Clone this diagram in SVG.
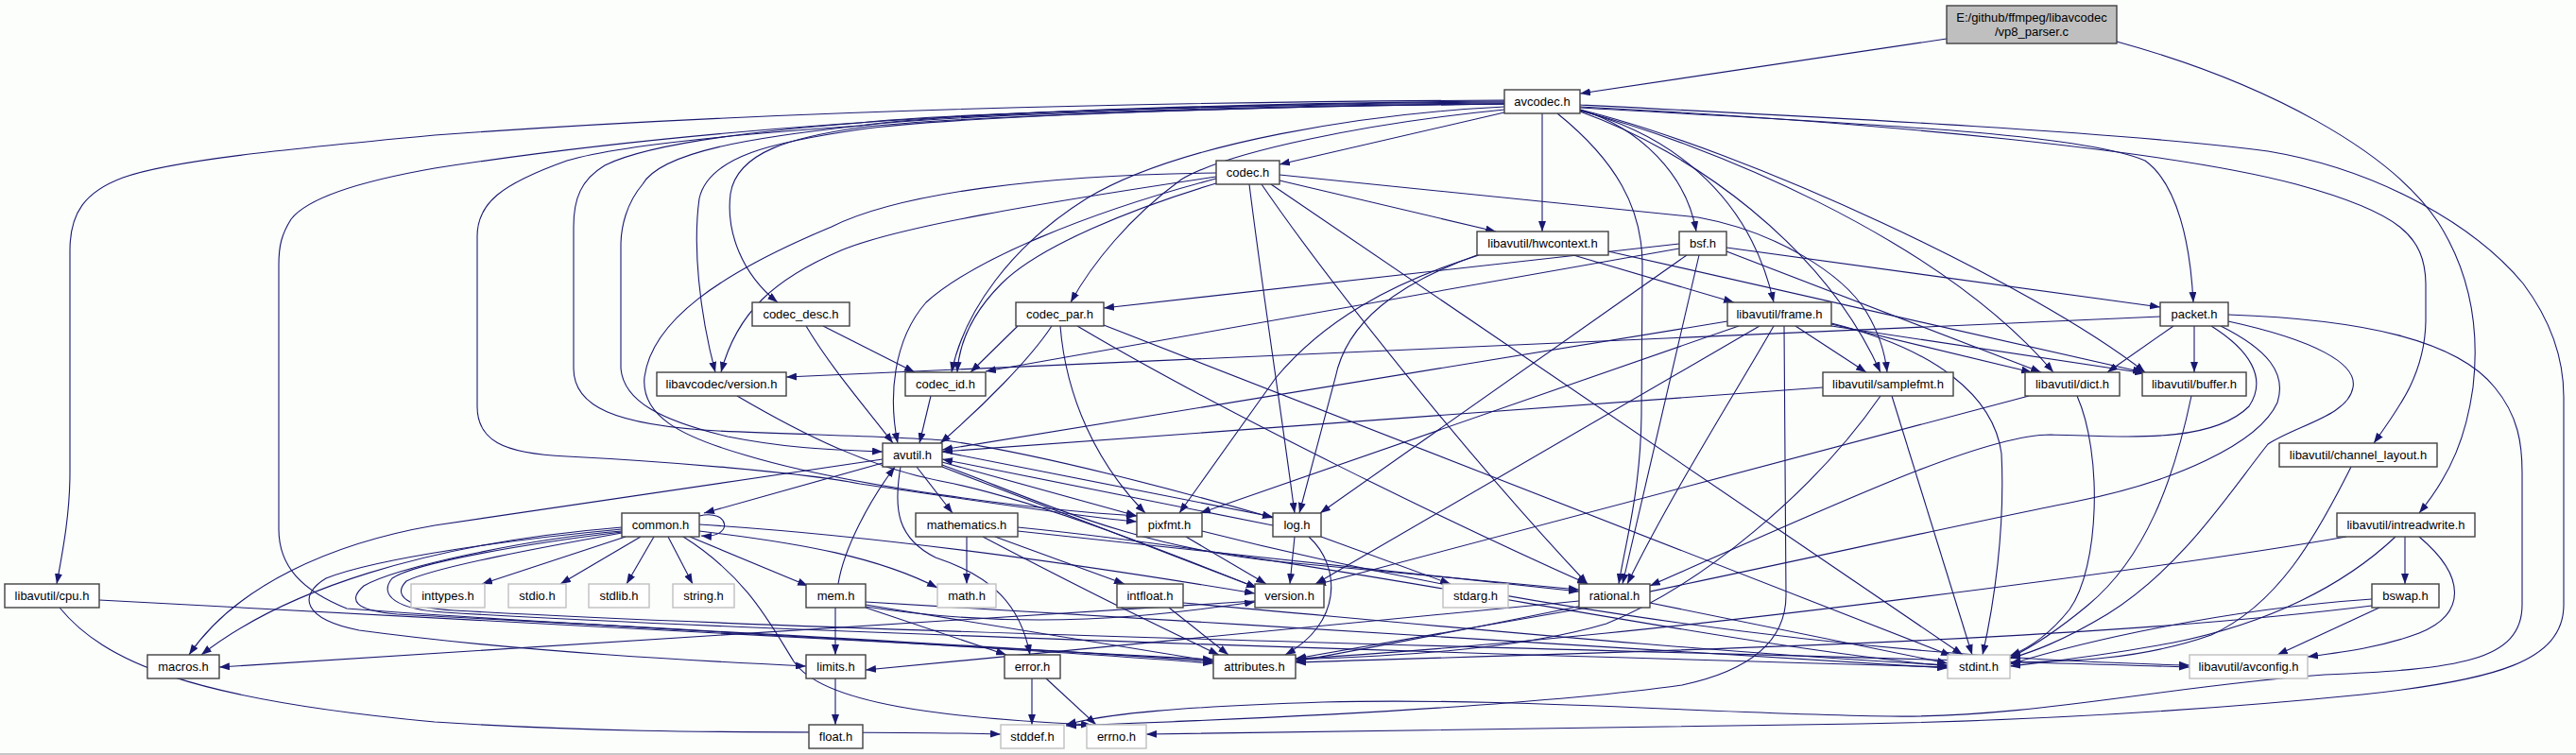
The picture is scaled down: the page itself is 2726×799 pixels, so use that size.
<svg xmlns="http://www.w3.org/2000/svg" width="2726" height="799" viewBox="0 0 2726 799">
<defs>
<marker id="a" viewBox="0 0 11 8" refX="11" refY="4" markerWidth="11" markerHeight="8" markerUnits="userSpaceOnUse" orient="auto"><path d="M0,0L11,4L0,8z" fill="#191970"/></marker>
<style>
.e path{fill:none;stroke:#191970;stroke-width:1.1;marker-end:url(#a)}
.n rect{fill:#ffffff;stroke:#404040;stroke-width:1.4}
.g rect{fill:#ffffff;stroke:#bfbfbf;stroke-width:1.4}
.r rect{fill:#bfbfbf;stroke:#404040;stroke-width:1.4}
text{font-family:"Liberation Sans",Arial,sans-serif;font-size:13px;fill:#000;text-anchor:middle}
</style>
</defs>
<rect x="0" y="0" width="2726" height="799" fill="#fcfefc"/>
<line x1="0" y1="798" x2="2726" y2="798" stroke="#b4b4b4" stroke-width="1.5"/>
<g class="e" id="edges">
<path d="M2060,41 L1672,99"/>
<path d="M2240,44 C2400,88 2530,160 2580,235 C2615,290 2624,350 2617,410 C2610,460 2595,500 2560,543"/>
<path d="M1592,119 L1354,174"/>
<path d="M1632,120 L1632,245"/>
<path d="M1672,116 C1735,135 1785,185 1795,245"/>
<path d="M1648,120 C1710,170 1738,220 1738,280 L1737,440 C1736,520 1720,575 1713,618"/>
<path d="M1672,117 C1760,140 1850,200 1877,320"/>
<path d="M1672,118 C1790,160 1930,260 1990,394"/>
<path d="M1672,117 C1800,150 2050,250 2173,394"/>
<path d="M1672,116 C1850,160 2150,300 2270,394"/>
<path d="M1672,114 C1950,130 2200,140 2270,170 C2305,195 2318,260 2321,320"/>
<path d="M1672,113 C2000,130 2300,160 2430,195 C2540,225 2566,250 2567,300 L2567,340 C2566,395 2540,430 2512,469"/>
<path d="M1672,111 C1950,125 2250,140 2400,160 C2520,180 2620,240 2670,300 C2700,340 2713,380 2713,420 L2713,640 C2713,700 2640,720 2500,735 C2300,755 2100,765 1900,767 C1600,770 1400,775 1213,777"/>
<path d="M1592,116 C1450,130 1300,160 1250,190 C1195,230 1155,280 1133,320"/>
<path d="M1592,113 C1450,120 1250,150 1150,210 C1070,260 1020,330 1007,394"/>
<path d="M1592,110 C1300,113 1000,124 910,135 C840,145 780,160 773,205 C768,245 785,290 823,320"/>
<path d="M1592,110 C1300,113 1000,124 910,137 C820,150 750,165 740,210 C733,260 740,330 757,394"/>
<path d="M1592,109 C1300,111 1000,120 910,130 C780,140 680,155 640,175 C615,190 607,210 607,240 L607,390 C607,430 650,450 760,456 C850,460 950,462 1000,466 C1100,480 1250,520 1347,548"/>
<path d="M1592,110 C1300,112 1000,122 910,133 C800,145 700,160 680,195 C663,215 657,240 657,260 L657,390 C660,425 700,445 770,462 C840,476 890,476 934,478"/>
<path d="M1592,108 C1300,110 1000,120 910,133 C780,142 650,155 600,170 C530,195 505,215 505,250 L505,430 C505,465 530,480 600,483 C700,488 850,500 910,512 C1000,525 1150,548 1203,552"/>
<path d="M1592,107 C1200,110 800,125 460,178 C380,192 325,210 308,232 C298,248 295,260 295,280 L295,560 C295,600 320,625 367,644 C600,662 1000,680 1284,702"/>
<path d="M1592,106 C1200,108 800,118 460,143 C300,158 180,170 130,188 C90,203 74,225 74,265 L74,500 C74,545 66,585 60,618"/>
<path d="M1345,195 L2077,693"/>
<path d="M1287,189 C1150,225 1030,275 980,320 C945,360 940,420 950,469"/>
<path d="M1354,191 L1583,245"/>
<path d="M1322,195 C1335,300 1355,430 1370,543"/>
<path d="M1287,183 C1100,185 950,205 880,240 C760,290 690,340 682,399 C678,440 720,462 790,482 C900,515 1100,540 1203,546"/>
<path d="M1335,195 C1400,290 1550,480 1680,618"/>
<path d="M1354,185 L1797,230 C1880,245 1950,290 1975,330 C1990,355 1995,375 1997,394"/>
<path d="M1287,194 C1200,220 1100,260 1060,300 C1030,330 1015,360 1013,394"/>
<path d="M1287,187 C1100,215 950,240 890,265 C820,295 780,330 763,394"/>
<path d="M1563,270 C1480,300 1425,340 1413,400 L1375,543"/>
<path d="M1565,270 C1470,300 1400,340 1350,400 L1248,543"/>
<path d="M1665,270 L1835,320"/>
<path d="M1702,266 L2268,394"/>
<path d="M1827,262 L2286,325"/>
<path d="M1827,266 L2160,394"/>
<path d="M1785,270 L1397,543"/>
<path d="M1798,270 L1717,618"/>
<path d="M1777,263 L1043,393"/>
<path d="M1777,258 L1168,326"/>
<path d="M853,345 C880,390 915,430 945,469"/>
<path d="M871,345 L968,394"/>
<path d="M1077,345 L1027,394"/>
<path d="M1113,345 C1090,380 1040,430 995,469"/>
<path d="M1122,345 C1128,420 1160,490 1212,543"/>
<path d="M1140,345 C1300,440 1550,560 1680,618"/>
<path d="M1168,344 L2065,694"/>
<path d="M1828,340 L997,476"/>
<path d="M1840,345 L1270,543"/>
<path d="M1862,345 L1392,618"/>
<path d="M1877,345 C1840,410 1770,520 1722,618"/>
<path d="M1900,345 L1975,394"/>
<path d="M1938,342 C2050,370 2110,420 2118,480 C2122,560 2110,640 2098,693"/>
<path d="M1938,343 L2150,394"/>
<path d="M1938,345 L2270,395"/>
<path d="M1888,345 L1890,630 C1890,680 1850,710 1780,725 C1600,750 1300,762 1128,768"/>
<path d="M2322,345 L2322,394"/>
<path d="M2300,345 L2230,394"/>
<path d="M2286,335 L832,399"/>
<path d="M2358,340 C2450,360 2495,385 2490,410 C2485,440 2430,450 2400,470 C2360,520 2310,600 2230,650 C2180,680 2150,690 2127,697"/>
<path d="M2350,345 C2400,370 2420,395 2410,426 C2390,470 2300,510 2200,530 C2000,570 1700,640 1371,700"/>
<path d="M2340,345 C2380,370 2400,400 2380,430 C2340,470 2250,462 2170,460 C2100,460 1950,530 1746,620"/>
<path d="M2358,333 C2500,338 2600,360 2640,410 C2665,440 2669,470 2669,500 L2669,640 C2669,700 2600,708 2460,714 C2300,725 2150,760 2000,758 C1800,755 1600,738 1400,743 C1250,748 1170,755 1128,767"/>
<path d="M1929,410 L997,478"/>
<path d="M2002,419 L2087,693"/>
<path d="M1990,419 C1920,520 1800,620 1700,660 C1600,690 1450,695 1371,698"/>
<path d="M2198,419 C2225,480 2222,600 2190,645 C2170,670 2150,685 2127,694"/>
<path d="M2147,419 L1392,619"/>
<path d="M2319,419 C2300,510 2270,590 2210,640 C2180,665 2150,685 2127,696"/>
<path d="M780,419 C850,460 920,495 1000,510 C1100,530 1250,590 1330,622"/>
<path d="M985,419 L973,469"/>
<path d="M934,490 L745,543"/>
<path d="M970,494 L1008,543"/>
<path d="M953,494 C945,540 950,570 990,590 C1050,610 1080,640 1090,693"/>
<path d="M997,489 L1203,546"/>
<path d="M997,478 L1347,547"/>
<path d="M997,494 L1330,622"/>
<path d="M997,492 C1100,530 1200,580 1360,595 C1500,608 1600,618 1671,624"/>
<path d="M934,486 L460,556 C350,575 250,620 200,693"/>
<path d="M1347,556 L997,486"/>
<path d="M1398,568 L1535,618"/>
<path d="M1370,568 L1365,618"/>
<path d="M1385,568 C1420,600 1420,660 1360,693"/>
<path d="M662,568 L510,618"/>
<path d="M678,568 L593,618"/>
<path d="M692,568 L663,618"/>
<path d="M707,568 L733,618"/>
<path d="M730,568 L855,620"/>
<path d="M740,546 C772,538 778,570 742,567"/>
<path d="M740,562 C850,575 930,590 992,622"/>
<path d="M723,568 C790,610 815,660 840,700 C870,745 1000,760 1155,767"/>
<path d="M658,560 C550,570 400,590 345,612 C315,630 320,655 380,667 C550,690 750,700 853,705"/>
<path d="M658,562 C560,570 420,600 385,620 C368,635 375,646 420,650 C700,665 1000,680 1284,700"/>
<path d="M658,563 C560,575 440,595 415,612 C400,630 420,645 470,648 C800,668 1500,690 2061,706"/>
<path d="M658,564 C580,578 460,600 430,615 C415,630 430,643 480,646 C900,670 1800,690 2317,706"/>
<path d="M658,558 C450,575 300,625 213,693"/>
<path d="M740,555 C900,565 1100,590 1328,628"/>
<path d="M1023,568 L1023,618"/>
<path d="M1053,568 L1190,618"/>
<path d="M1040,568 C1120,610 1220,660 1290,693"/>
<path d="M1077,562 L1671,626"/>
<path d="M1077,558 C1400,590 1800,680 2061,705"/>
<path d="M1255,568 L1340,618"/>
<path d="M1272,562 C1500,620 1900,695 2317,704"/>
<path d="M884,643 L884,693"/>
<path d="M887,618 C893,580 920,530 947,494"/>
<path d="M916,643 L1065,693"/>
<path d="M916,640 L1284,700"/>
<path d="M916,637 C1300,660 1800,690 2061,707"/>
<path d="M916,642 C1000,655 1100,660 1200,652 C1260,647 1300,641 1328,637"/>
<path d="M1237,643 L1300,693"/>
<path d="M1252,638 C1500,660 1800,690 2061,704"/>
<path d="M1746,638 L2061,702"/>
<path d="M1671,636 L916,709"/>
<path d="M1680,643 L1371,697"/>
<path d="M1328,636 L232,706"/>
<path d="M1092,718 L1092,767"/>
<path d="M1107,718 L1160,767"/>
<path d="M884,718 L884,767"/>
<path d="M105,635 L1284,698"/>
<path d="M63,643 C110,700 200,740 460,764 C700,780 900,772 1059,777"/>
<path d="M2488,494 C2450,570 2410,640 2340,672 C2260,700 2180,700 2127,701"/>
<path d="M2545,568 L2545,618"/>
<path d="M2560,568 C2610,610 2610,650 2560,670 C2520,685 2480,690 2442,695"/>
<path d="M2535,568 C2480,620 2400,660 2300,680 C2220,695 2170,700 2127,705"/>
<path d="M2483,568 C2300,600 1900,650 1700,670 C1550,685 1450,693 1371,697"/>
<path d="M2518,643 L2410,693"/>
<path d="M2510,634 C2350,645 2200,680 2127,703"/>
<path d="M2510,641 C2200,680 1700,690 1371,701"/>
</g>
<g id="vp8_parser_c" class="r"><rect x="2060" y="6" width="180" height="40"/><text x="2150" y="23">E:/github/ffmpeg/libavcodec</text><text x="2150" y="38">/vp8_parser.c</text></g>
<g id="avcodec_h" class="n"><rect x="1592" y="95" width="80" height="25"/><text x="1632" y="112">avcodec.h</text></g>
<g id="codec_h" class="n"><rect x="1287" y="170" width="67" height="25"/><text x="1320.5" y="187">codec.h</text></g>
<g id="hwcontext_h" class="n"><rect x="1563" y="245" width="139" height="25"/><text x="1632.5" y="262">libavutil/hwcontext.h</text></g>
<g id="bsf_h" class="n"><rect x="1777" y="245" width="50" height="25"/><text x="1802" y="262">bsf.h</text></g>
<g id="codec_desc_h" class="n"><rect x="796" y="320" width="103" height="25"/><text x="847.5" y="337">codec_desc.h</text></g>
<g id="codec_par_h" class="n"><rect x="1075" y="320" width="93" height="25"/><text x="1121.5" y="337">codec_par.h</text></g>
<g id="frame_h" class="n"><rect x="1828" y="320" width="110" height="25"/><text x="1883" y="337">libavutil/frame.h</text></g>
<g id="packet_h" class="n"><rect x="2286" y="320" width="72" height="25"/><text x="2322" y="337">packet.h</text></g>
<g id="codec_id_h" class="n"><rect x="958" y="394" width="85" height="25"/><text x="1000.5" y="411">codec_id.h</text></g>
<g id="lavc_version_h" class="n"><rect x="695" y="394" width="137" height="25"/><text x="763.5" y="411">libavcodec/version.h</text></g>
<g id="samplefmt_h" class="n"><rect x="1929" y="394" width="138" height="25"/><text x="1998" y="411">libavutil/samplefmt.h</text></g>
<g id="dict_h" class="n"><rect x="2143" y="394" width="100" height="25"/><text x="2193" y="411">libavutil/dict.h</text></g>
<g id="buffer_h" class="n"><rect x="2267" y="394" width="110" height="25"/><text x="2322" y="411">libavutil/buffer.h</text></g>
<g id="avutil_h" class="n"><rect x="934" y="469" width="63" height="25"/><text x="965.5" y="486">avutil.h</text></g>
<g id="channel_layout_h" class="n"><rect x="2412" y="469" width="167" height="25"/><text x="2495.5" y="486">libavutil/channel_layout.h</text></g>
<g id="common_h" class="n"><rect x="658" y="543" width="82" height="25"/><text x="699" y="560">common.h</text></g>
<g id="mathematics_h" class="n"><rect x="969" y="543" width="108" height="25"/><text x="1023" y="560">mathematics.h</text></g>
<g id="pixfmt_h" class="n"><rect x="1203" y="543" width="69" height="25"/><text x="1237.5" y="560">pixfmt.h</text></g>
<g id="log_h" class="n"><rect x="1347" y="543" width="51" height="25"/><text x="1372.5" y="560">log.h</text></g>
<g id="intreadwrite_h" class="n"><rect x="2473" y="543" width="146" height="25"/><text x="2546" y="560">libavutil/intreadwrite.h</text></g>
<g id="cpu_h" class="n"><rect x="5" y="618" width="100" height="25"/><text x="55" y="635">libavutil/cpu.h</text></g>
<g id="inttypes_h" class="g"><rect x="435" y="618" width="78" height="25"/><text x="474" y="635">inttypes.h</text></g>
<g id="stdio_h" class="g"><rect x="538" y="618" width="61" height="25"/><text x="568.5" y="635">stdio.h</text></g>
<g id="stdlib_h" class="g"><rect x="623" y="618" width="64" height="25"/><text x="655" y="635">stdlib.h</text></g>
<g id="string_h" class="g"><rect x="712" y="618" width="65" height="25"/><text x="744.5" y="635">string.h</text></g>
<g id="mem_h" class="n"><rect x="853" y="618" width="63" height="25"/><text x="884.5" y="635">mem.h</text></g>
<g id="math_h" class="g"><rect x="992" y="618" width="62" height="25"/><text x="1023" y="635">math.h</text></g>
<g id="intfloat_h" class="n"><rect x="1182" y="618" width="70" height="25"/><text x="1217" y="635">intfloat.h</text></g>
<g id="version_h" class="n"><rect x="1328" y="618" width="73" height="25"/><text x="1364.5" y="635">version.h</text></g>
<g id="stdarg_h" class="g"><rect x="1527" y="618" width="69" height="25"/><text x="1561.5" y="635">stdarg.h</text></g>
<g id="rational_h" class="n"><rect x="1671" y="618" width="75" height="25"/><text x="1708.5" y="635">rational.h</text></g>
<g id="bswap_h" class="n"><rect x="2510" y="618" width="71" height="25"/><text x="2545.5" y="635">bswap.h</text></g>
<g id="macros_h" class="n"><rect x="156" y="693" width="76" height="25"/><text x="194" y="710">macros.h</text></g>
<g id="limits_h" class="n"><rect x="853" y="693" width="63" height="25"/><text x="884.5" y="710">limits.h</text></g>
<g id="error_h" class="n"><rect x="1063" y="693" width="59" height="25"/><text x="1092.5" y="710">error.h</text></g>
<g id="attributes_h" class="n"><rect x="1284" y="693" width="87" height="25"/><text x="1327.5" y="710">attributes.h</text></g>
<g id="stdint_h" class="g"><rect x="2061" y="693" width="66" height="25"/><text x="2094" y="710">stdint.h</text></g>
<g id="avconfig_h" class="g"><rect x="2317" y="693" width="125" height="25"/><text x="2379.5" y="710">libavutil/avconfig.h</text></g>
<g id="float_h" class="n"><rect x="856" y="767" width="57" height="25"/><text x="884.5" y="784">float.h</text></g>
<g id="stddef_h" class="g"><rect x="1059" y="767" width="67" height="25"/><text x="1092.5" y="784">stddef.h</text></g>
<g id="errno_h" class="g"><rect x="1150" y="767" width="63" height="25"/><text x="1181.5" y="784">errno.h</text></g>
</svg>
